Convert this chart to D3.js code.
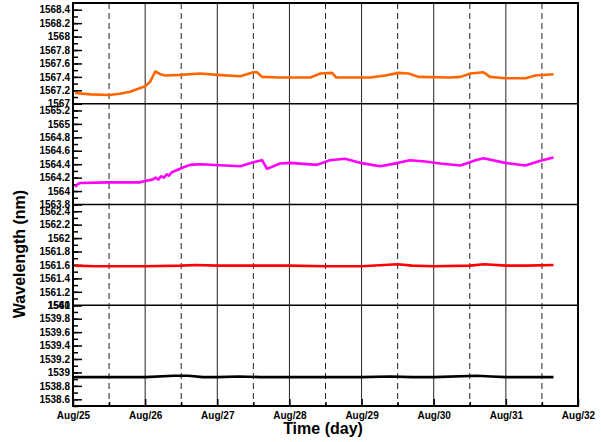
<!DOCTYPE html>
<html>
<head>
<meta charset="utf-8">
<script src="https://cdn.jsdelivr.net/npm/d3@7"></script>
<style>
  body { margin: 0; background: #fff; }
  text { font-family: "Liberation Sans", Arial, sans-serif; font-weight: bold; }
</style>
</head>
<body>
<div id="chart"></div>
<script>
// days in August (Aug/32 is the end of the axis, as on the original)
var dayTicks = [25, 26, 27, 28, 29, 30, 31, 32];

var orangeDays = [25.03, 25.24, 25.5, 25.65, 25.79, 26.0, 26.07, 26.14, 26.21, 26.28, 26.5, 26.76, 27.0, 27.32, 27.5, 27.55, 27.62, 27.87, 28.29, 28.43, 28.59, 28.65, 29.12, 29.33, 29.51, 29.65, 29.79, 30.23, 30.37, 30.51, 30.69, 30.78, 30.99, 31.27, 31.41, 31.66];
var orangeWl = [1567.16, 1567.14, 1567.13, 1567.15, 1567.18, 1567.26, 1567.33, 1567.48, 1567.44, 1567.42, 1567.43, 1567.45, 1567.43, 1567.41, 1567.47, 1567.47, 1567.40, 1567.39, 1567.39, 1567.45, 1567.46, 1567.39, 1567.39, 1567.42, 1567.46, 1567.45, 1567.40, 1567.39, 1567.40, 1567.45, 1567.47, 1567.40, 1567.38, 1567.38, 1567.42, 1567.44];

var magentaDays = [25.03, 25.06, 25.1, 25.5, 25.93, 26.0, 26.1, 26.15, 26.18, 26.22, 26.26, 26.3, 26.33, 26.37, 26.5, 26.62, 26.76, 27.32, 27.5, 27.62, 27.69, 27.87, 28.01, 28.38, 28.56, 28.77, 28.98, 29.26, 29.51, 29.67, 29.88, 30.09, 30.37, 30.58, 30.69, 30.99, 31.27, 31.48, 31.66];
var magentaWl = [1564.06, 1564.10, 1564.12, 1564.13, 1564.13, 1564.15, 1564.17, 1564.20, 1564.17, 1564.22, 1564.20, 1564.25, 1564.23, 1564.28, 1564.34, 1564.39, 1564.40, 1564.37, 1564.43, 1564.46, 1564.33, 1564.41, 1564.42, 1564.39, 1564.46, 1564.48, 1564.42, 1564.37, 1564.42, 1564.46, 1564.44, 1564.41, 1564.38, 1564.46, 1564.49, 1564.42, 1564.38, 1564.45, 1564.50];

var redDays = [25.03, 25.3, 26.0, 26.5, 26.7, 27.0, 27.5, 28.0, 28.5, 29.0, 29.5, 29.7, 30.0, 30.5, 30.7, 31.0, 31.3, 31.66];
var redWl = [1561.59, 1561.58, 1561.58, 1561.59, 1561.60, 1561.59, 1561.59, 1561.59, 1561.58, 1561.58, 1561.61, 1561.59, 1561.58, 1561.59, 1561.61, 1561.59, 1561.59, 1561.60];

var blackDays = [25.0, 25.03, 25.5, 26.0, 26.4, 26.6, 26.8, 27.0, 27.3, 27.6, 28.0, 28.5, 29.0, 29.4, 29.7, 30.0, 30.6, 30.8, 31.0, 31.66];
var blackWl = [1538.92, 1538.93, 1538.93, 1538.93, 1538.95, 1538.95, 1538.93, 1538.93, 1538.94, 1538.93, 1538.93, 1538.93, 1538.93, 1538.94, 1538.93, 1538.93, 1538.95, 1538.94, 1538.93, 1538.93];

// panel y ranges and the labelled ticks of each panel
var panelDomains = [[1567, 1568.5], [1563.8, 1565.3], [1561, 1562.5], [1538.5, 1540]];
var panelFirstTick = [1567, 1563.8, 1561, 1538.6];
var panelLastTick = [1568.4, 1565.2, 1562.4, 1540];

var series = [
  { days: orangeDays, wl: orangeWl, color: "#ff6600" },
  { days: magentaDays, wl: magentaWl, color: "#ff00ff" },
  { days: redDays, wl: redWl, color: "#ff0000" },
  { days: blackDays, wl: blackWl, color: "#000000" }
];

var W = 601, H = 442,
  margin = { top: 3, right: 23, bottom: 36, left: 73 },
  plotW = W - margin.left - margin.right,
  plotH = H - margin.top - margin.bottom,
  panelH = plotH / 4;

var svg = d3.select("#chart").append("svg")
  .attr("width", W)
  .attr("height", H);

var g = svg.append("g")
  .attr("transform", "translate(" + margin.left + "," + margin.top + ")");

var x = d3.scaleLinear()
  .domain([25, 32])
  .range([0, plotW]);

// vertical grid: solid at days, dashed at noon
var halfDays = d3.range(25.5, 32, 1);
g.selectAll(".vday")
  .data(dayTicks.slice(1, -1))
  .enter().append("line")
  .attr("x1", function(d) { return x(d); })
  .attr("x2", function(d) { return x(d); })
  .attr("y1", 0)
  .attr("y2", plotH)
  .attr("stroke", "#222")
  .attr("stroke-width", 1);

g.selectAll(".vhalf")
  .data(halfDays)
  .enter().append("line")
  .attr("x1", function(d) { return x(d); })
  .attr("x2", function(d) { return x(d); })
  .attr("y1", 0)
  .attr("y2", plotH)
  .attr("stroke", "#222")
  .attr("stroke-width", 1)
  .attr("stroke-dasharray", "6,4");

var fmt = function(d) { return String(+d.toFixed(1)); };

series.forEach(function(s, i) {
  var top = i * panelH;
  var y = d3.scaleLinear()
    .domain(panelDomains[i])
    .range([top + panelH, top]);

  var major = d3.range(0, Math.round((panelLastTick[i] - panelFirstTick[i]) / 0.2) + 1)
    .map(function(k) { return panelFirstTick[i] + k * 0.2; });
  var minor = d3.range(0, 15)
    .map(function(k) { return panelDomains[i][0] + k * 0.1; });

  g.append("g")
    .call(d3.axisLeft(y).tickValues(minor).tickSize(-5).tickFormat(""))
    .call(function(a) { a.select(".domain").remove(); })
    .selectAll("line").attr("stroke-width", 1.5);

  var ax = g.append("g")
    .call(d3.axisLeft(y).tickValues(major).tickSize(-9).tickPadding(3).tickFormat(fmt));
  ax.select(".domain").remove();
  ax.selectAll("line").attr("stroke-width", 1.5);
  ax.selectAll("text")
    .attr("font-size", 10)
    .attr("fill", "#000");

  var line = d3.line()
    .x(function(d) { return x(d[0]); })
    .y(function(d) { return y(d[1]); });

  g.append("path")
    .datum(d3.zip(s.days, s.wl))
    .attr("d", line)
    .attr("fill", "none")
    .attr("stroke", s.color)
    .attr("stroke-width", 2.6)
    .attr("stroke-linejoin", "round");

  if (i > 0) {
    g.append("line")
      .attr("x1", 0)
      .attr("x2", plotW)
      .attr("y1", top)
      .attr("y2", top)
      .attr("stroke", "#000")
      .attr("stroke-width", 1.5);
  }
});

// bottom axis with ticks pointing inward
g.append("g")
  .attr("transform", "translate(0," + plotH + ")")
  .call(d3.axisBottom(x).tickValues(halfDays).tickSize(-4).tickFormat(""))
  .call(function(a) { a.select(".domain").remove(); })
  .selectAll("line").attr("stroke-width", 1.5);

var xa = g.append("g")
  .attr("transform", "translate(0," + plotH + ")")
  .call(d3.axisBottom(x).tickValues(dayTicks).tickSize(-7).tickPadding(6)
    .tickFormat(function(d) { return "Aug/" + d; }));
xa.select(".domain").remove();
xa.selectAll("line").attr("stroke-width", 1.5);
xa.selectAll("text")
  .attr("font-size", 10)
  .attr("fill", "#000");

// frame
g.append("rect")
  .attr("width", plotW)
  .attr("height", plotH)
  .attr("fill", "none")
  .attr("stroke", "#000")
  .attr("stroke-width", 2);

svg.append("text")
  .attr("x", 323)
  .attr("y", 434)
  .attr("text-anchor", "middle")
  .attr("font-size", 16)
  .text("Time (day)");

svg.append("text")
  .attr("transform", "translate(25,254) rotate(-90)")
  .attr("text-anchor", "middle")
  .attr("font-size", 16)
  .text("Wavelength (nm)");
</script>
</body>
</html>
